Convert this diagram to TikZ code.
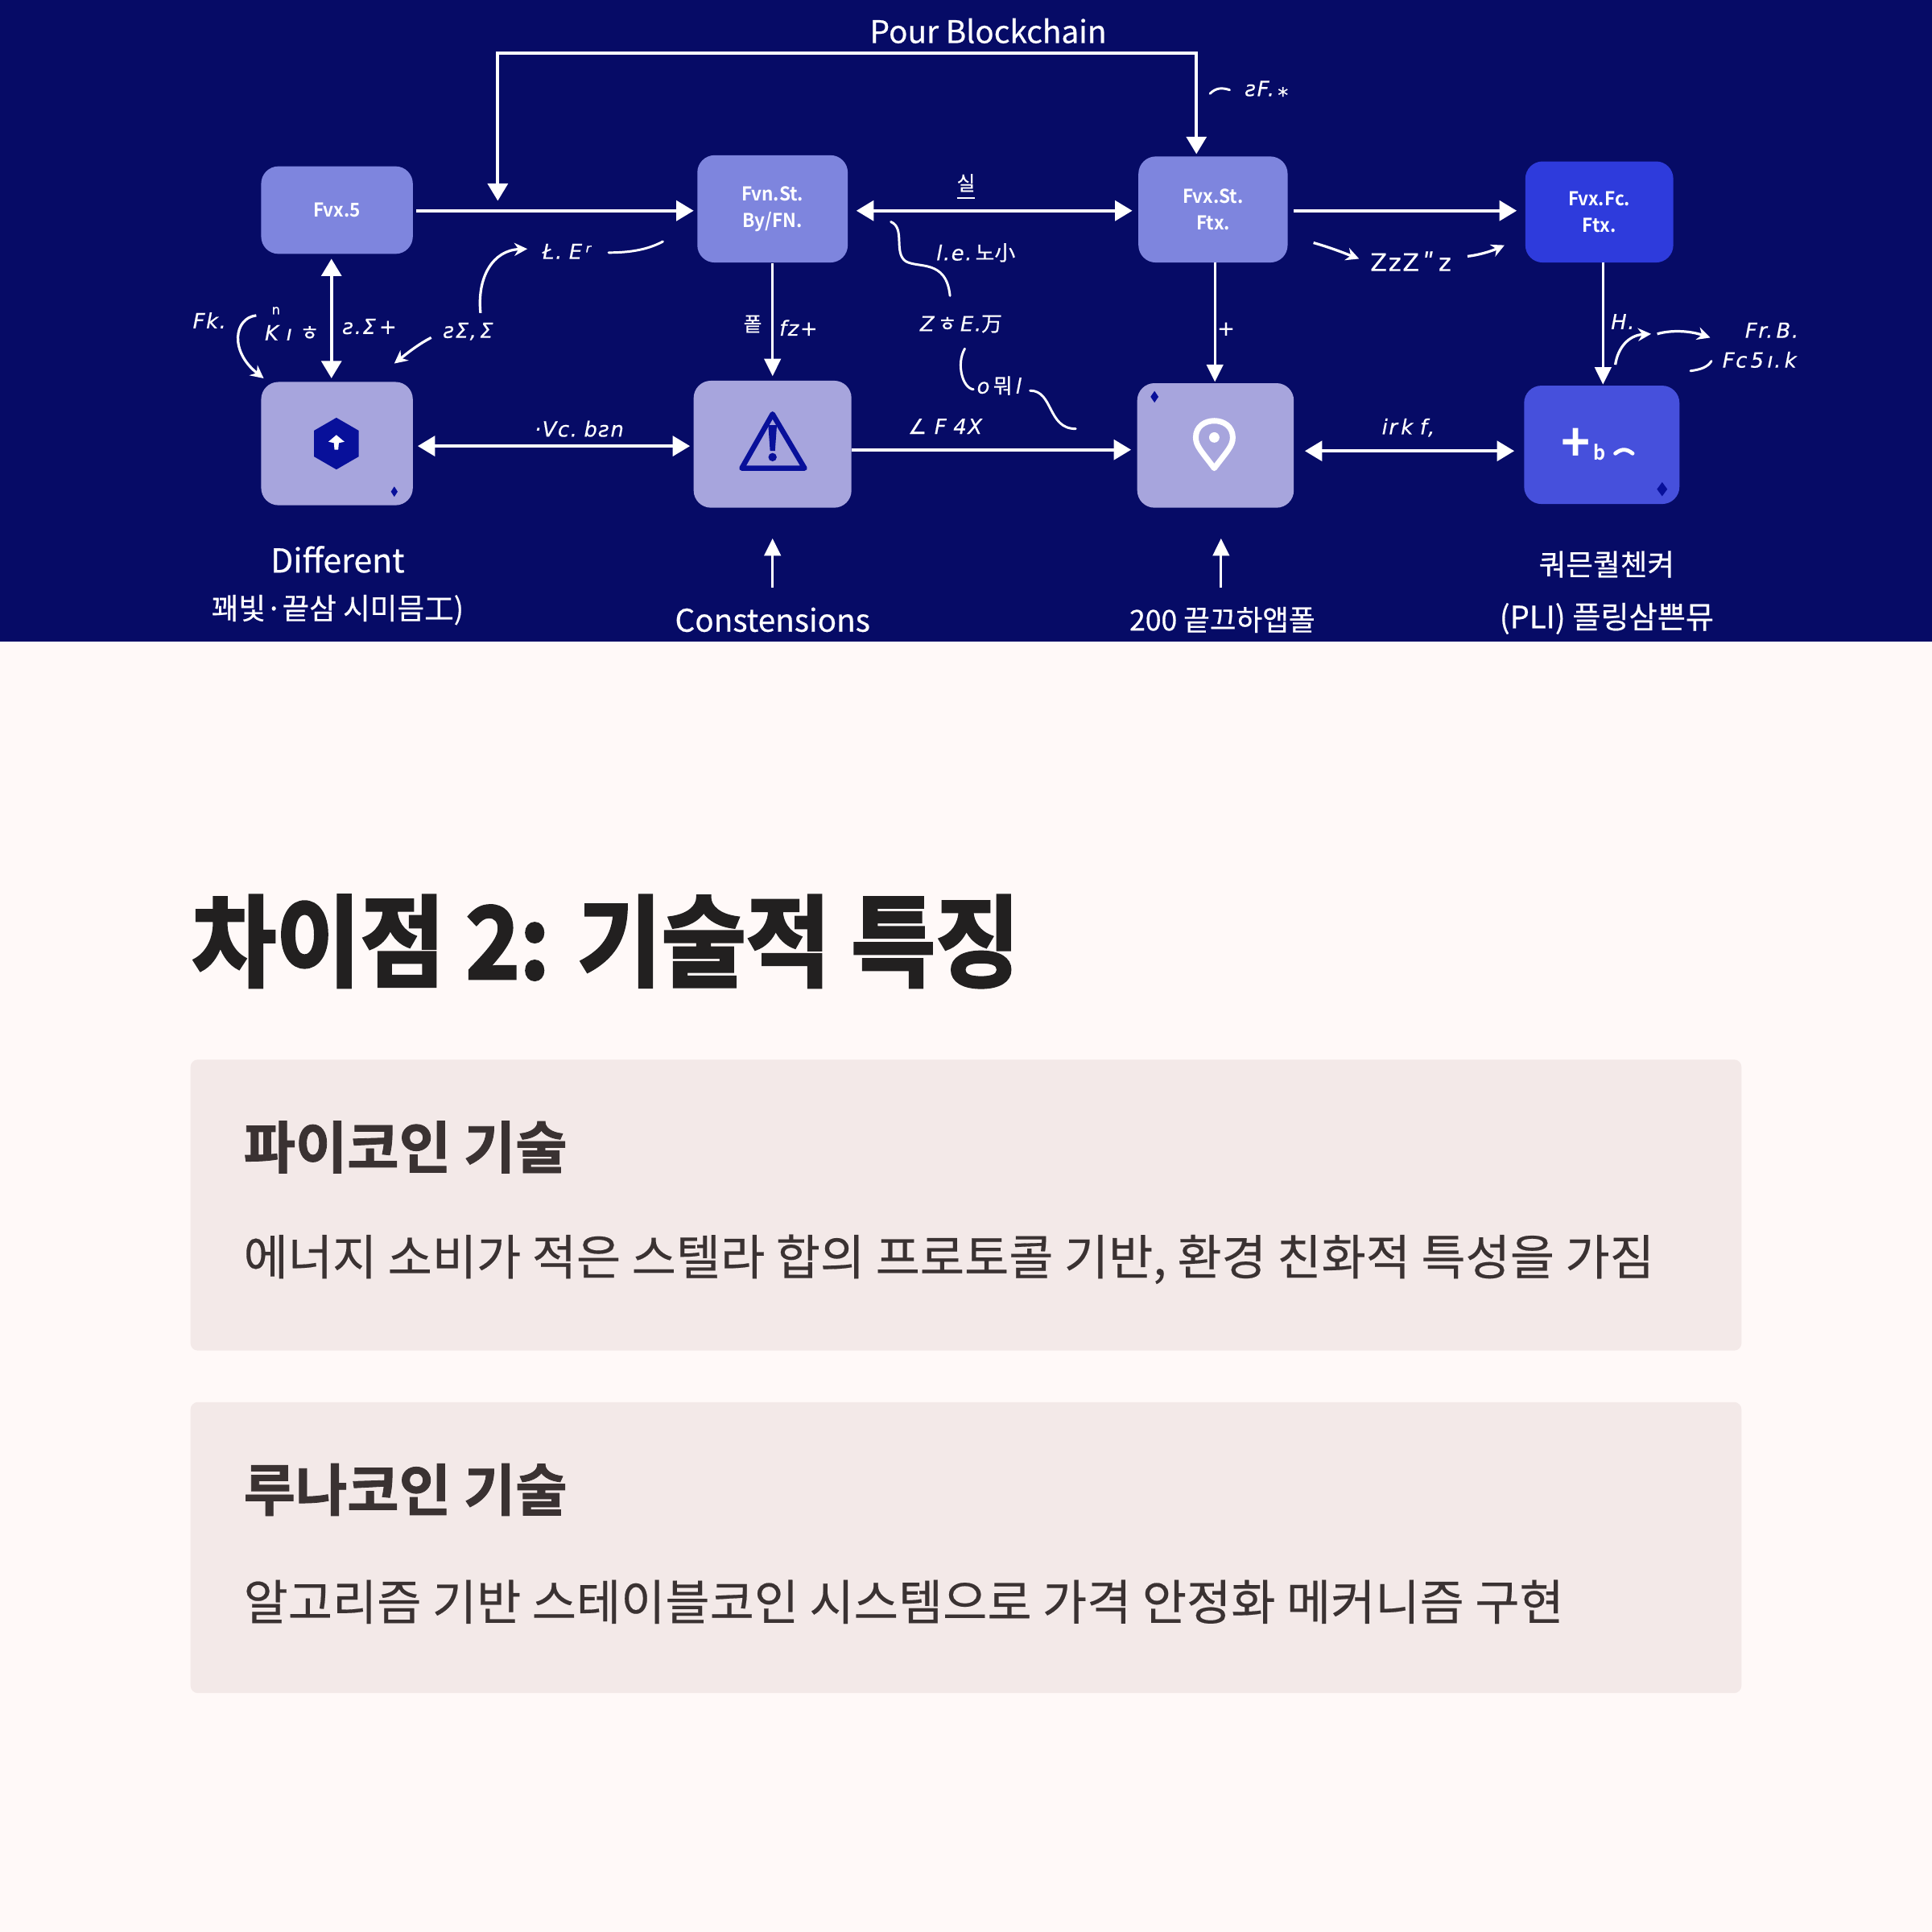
\documentclass[tikz,border=0pt]{standalone}
\usepackage{fontspec}
\usetikzlibrary{arrows.meta,shapes.geometric}
\setmainfont{Noto Sans CJK KR}
\newfontfamily\krfont{Noto Sans CJK KR}
\newfontfamily\krmed{Noto Sans CJK KR}[FakeBold=0.3]
\newfontfamily\krcap{Noto Sans CJK KR}[FakeBold=0.5]
\newfontfamily\krbox{Noto Sans CJK KR}[UprightFont=* Bold,FakeStretch=0.95]
\newfontfamily\krheavy{Noto Sans CJK KR}[UprightFont=* Bold,FakeBold=2.6,FakeStretch=0.92]
\newfontfamily\krhead{Noto Sans CJK KR}[UprightFont=* Bold,FakeBold=1.2]
\newfontfamily\scr{DejaVu Sans}[FakeBold=0.4,LetterSpace=6]
\definecolor{navy}{HTML}{060B66}
\definecolor{pagebg}{HTML}{FFF9F8}
\definecolor{cardbg}{HTML}{F3E9E8}
\definecolor{midbox}{HTML}{7E85DE}
\definecolor{lightbox}{HTML}{A7A5DD}
\definecolor{bluebox}{HTML}{2E3BDC}
\definecolor{blueboxb}{HTML}{4650DC}
\definecolor{iconblue}{HTML}{08109A}
\definecolor{inkhead}{HTML}{222020}
\definecolor{inksub}{HTML}{3A3232}
\tikzset{
 x=0.01cm,y=-0.01cm,
 flowbox/.style={draw=none,rounded corners=0.14cm,inner sep=0pt,align=center,text=white,font=\krbox\fontsize{4.4}{6.2}\selectfont},
 wire/.style={draw=white,line width=0.75pt,-{Triangle[length=4pt,width=4.6pt]}},
 wirethin/.style={draw=white,line width=0.6pt,-{Triangle[length=4pt,width=3.8pt]}},
 wirebi/.style={draw=white,line width=0.75pt,{Triangle[length=4pt,width=4.6pt]}-{Triangle[length=4pt,width=4.6pt]}},
 squig/.style={draw=white,line width=0.55pt,line cap=round},
 squigarrow/.style={draw=white,line width=0.6pt,-{Stealth[length=3pt,width=3pt]}},
 scrawl/.style={text=white,inner sep=0pt,font=\scr\itshape\fontsize{4.8}{5}\selectfont},
 caption/.style={text=white,inner sep=0pt,font=\krcap\fontsize{7.2}{9}\selectfont},
 captionkr/.style={text=white,inner sep=0pt,font=\krcap\fontsize{6.8}{9}\selectfont},
 card/.style={draw=none,fill=cardbg,rounded corners=0.06cm,inner sep=0pt,minimum width=12.58cm,minimum height=2.36cm},
 bodytext/.style={anchor=west,inner sep=0pt,text=inksub,font=\krmed\fontsize{11.15}{14}\selectfont},
 headtext/.style={anchor=west,inner sep=0pt,text=inksub,font=\krhead\fontsize{13}{15}\selectfont},
}
\begin{document}
\begin{tikzpicture}
\useasboundingbox (0,0) rectangle (1568,1568);
\fill[pagebg] (0,0) rectangle (1568,1568);
\fill[navy] (0,0) rectangle (1568,521);

% boxes
\node[flowbox,fill=midbox,minimum width=1.23cm,minimum height=0.71cm] (a) at (273.5,170.5) {Fvx.5};
\node[flowbox,fill=midbox,minimum width=1.22cm,minimum height=0.87cm] (b) at (627,169.5) {Fvn.St.\\By/FN.};
\node[flowbox,fill=midbox,minimum width=1.21cm,minimum height=0.86cm] (c) at (984.5,170) {Fvx.St.\\Ftx.};
\node[flowbox,fill=bluebox,minimum width=1.20cm,minimum height=0.82cm] (d) at (1298,172) {Fvx.Fc.\\Ftx.};
\node[flowbox,fill=lightbox,minimum width=1.23cm,minimum height=1.00cm] (e) at (273.5,360) {};
\node[flowbox,fill=lightbox,minimum width=1.28cm,minimum height=1.03cm] (f) at (627,360.5) {};
\node[flowbox,fill=lightbox,minimum width=1.27cm,minimum height=1.01cm] (g) at (986.5,361.5) {};
\node[flowbox,fill=blueboxb,minimum width=1.26cm,minimum height=0.96cm] (h) at (1300,361) {};

% icons
\node[regular polygon,regular polygon sides=6,shape border rotate=30,fill=iconblue,minimum size=0.42cm,inner sep=0pt] (hexicon) at (273,360) {};
\fill[white] (273,353) -- (279.5,358.5) -- (275,359.5) -- (274.5,365) -- (271.5,365) -- (271,359.5) -- (266.5,358.5) -- cycle;
\node[diamond,fill=iconblue,minimum width=0.06cm,minimum height=0.09cm,inner sep=0pt] (de) at (320,399) {};
\draw[iconblue,line width=1.2pt,line join=round] (627,336) -- (653,380) -- (602,380) -- cycle;
\fill[iconblue] (623.5,345) -- (630.5,345) -- (629,366) -- (625,366) -- cycle;
\fill[iconblue] (627,371) circle (3.4);
\draw[white,line width=1.3pt,line join=round] (985.5,380) .. controls (975,366) and (970.5,362) .. (970.5,355) .. controls (970.5,337) and (1000.5,337) .. (1000.5,355) .. controls (1000.5,362) and (996,366) .. (985.5,380) -- cycle;
\fill[white] (985.5,355) circle (4.2);
\node[diamond,fill=iconblue,minimum width=0.07cm,minimum height=0.10cm,inner sep=0pt] (dg) at (937,322) {};
\node[diamond,fill=iconblue,minimum width=0.09cm,minimum height=0.12cm,inner sep=0pt] (dh) at (1349,397) {};
\node[text=white,inner sep=0pt,font=\krbox\fontsize{12}{12}\selectfont] (plus) at (1279,361) {+};
\node[text=white,inner sep=0pt,font=\krbox\fontsize{4.6}{5}\selectfont] (pb) at (1298,367) {b};
\draw[white,line width=0.9pt,line cap=round] (1311,368) .. controls (1316,364) and (1320,364) .. (1325,368);

% connector ends
\coordinate (topin) at (404,163);
\coordinate (topa) at (404,43);
\coordinate (topb) at (971,43);
\coordinate (topc) at (971,125);
\coordinate (abs) at (338,171);
\coordinate (abe) at (563,171);
\coordinate (bcs) at (695,171);
\coordinate (bce) at (919,171);
\coordinate (cds) at (1050,171);
\coordinate (cde) at (1231,171);
\coordinate (aes) at (269,210);
\coordinate (aee) at (269,307);
\coordinate (cgs) at (986,213);
\coordinate (cge) at (986,310);
\coordinate (dhs) at (1301,213);
\coordinate (dhe) at (1301,312);
\coordinate (efs) at (339,362);
\coordinate (efe) at (560,362);
\coordinate (fgs) at (691,365);
\coordinate (fge) at (918,365);
\coordinate (ghs) at (1059,366);
\coordinate (ghe) at (1229,366);
\coordinate (uf) at (627,477);
\coordinate (uft) at (627,437);
\coordinate (ug) at (991,477);
\coordinate (ugt) at (991,437);

% connectors
\draw[wirebi] (topin) -- (topa) -- (topb) -- (topc);
\draw[wire] (abs) -- (abe);
\draw[wirebi] (bcs) -- (bce);
\draw[wire] (cds) -- (cde);
\draw[wirebi] (aes) -- (aee);
\draw[wirethin] (b.south) -- ([yshift=0.03cm]f.north);
\draw[wirethin] (cgs) -- (cge);
\draw[wirethin] (dhs) -- (dhe);
\draw[wirebi] (efs) -- (efe);
\draw[wire] (fgs) -- (fge);
\draw[wirebi] (ghs) -- (ghe);
\draw[wirethin] (uf) -- (uft);
\draw[wirethin] (ug) -- (ugt);

% scrawled labels
\node[scrawl] (l1) at (460,204) {Ł.\,\,E\,ʳ};
\node[scrawl] (l2) at (1028,72) {ƨF.\,⁎};
\node[scrawl,font=\krcap\fontsize{4.6}{5}\selectfont] (l3) at (784,152) {\underline{실}};
\node[scrawl] (l4) at (792,205) {l.e.{\krcap\,노小}};
\node[scrawl] (l5) at (780,263) {Z{\krcap\,ㅎ\,}E.{\krcap 万}};
\node[scrawl] (l6) at (811,313) {o{\krcap\,뭐\,}l};
\node[scrawl] (l7) at (767,346) {∠ F\,\,4X};
\node[scrawl] (l8) at (470,348) {·Vc.\,\,bƨn};
\node[scrawl] (l9) at (1143,347) {ir\,k\,\,f,};
\node[scrawl,font=\scr\fontsize{5.6}{6}\selectfont] (l10) at (1145,212) {ZzZ\,ʺ\,z};
\node[scrawl] (l11) at (300,265) {ƨ.Σ\,+};
\node[scrawl] (l12) at (237,270) {K ı {\krcap ㅎ}};
\node[scrawl] (l13) at (170,260) {Fk.};
\node[scrawl] (l14) at (380,269) {ƨΣ,\,Σ};
\node[scrawl,font=\krcap\fontsize{4.6}{5}\selectfont] (l15) at (611,263) {퐅};
\node[scrawl] (l16) at (648,266) {fz+};
\node[scrawl] (l17) at (995,267) {+};
\node[scrawl] (l18) at (1317,261) {H.};
\node[scrawl] (l19) at (1438,268) {Fr.\,B.};
\node[scrawl] (l20) at (1428,292) {Fc\,5\,ı.\,k};
\node[scrawl,font=\scr\fontsize{3}{4}\selectfont] (l21) at (224,252) {n};

% squiggles
\draw[squig] (494,205) .. controls (510,205) and (525,203) .. (538,196);
\draw[squigarrow] (390,254) .. controls (387,225) and (400,203) .. (428,202);
\draw[squigarrow] (350,274) .. controls (340,279) and (330,287) .. (320,295);
\draw[squigarrow] (208,256) .. controls (190,258) and (186,285) .. (214,307);
\draw[squig] (982,76) .. controls (987,71) and (992,71) .. (998,73);
\draw[squig] (723,180) .. controls (735,185) and (725,205) .. (735,212) .. controls (745,218) and (768,210) .. (771,240);
\draw[squig] (783,283) .. controls (776,295) and (781,315) .. (790,316);
\draw[squig] (836,317) .. controls (855,317) and (850,348) .. (873,348);
\draw[squigarrow] (1066,197) .. controls (1080,201) and (1090,205) .. (1103,210);
\draw[squigarrow] (1191,208) .. controls (1200,207) and (1210,204) .. (1221,199);
\draw[squigarrow] (1311,296) .. controls (1313,282) and (1322,272) .. (1340,271);
\draw[squigarrow] (1345,271) .. controls (1355,268) and (1370,268) .. (1388,274);
\draw[squig] (1372,301) .. controls (1380,300) and (1386,298) .. (1389,293);

% captions
\node[caption] (pour) at (802,25) {Pour Blockchain};
\node[caption,font=\krcap\fontsize{7.6}{9}\selectfont] (cap1) at (274,454) {Different};
\node[captionkr] (cap1b) at (274,495) {꽤빛·끝삼 시미믐工)};
\node[caption] (cap2) at (627,503) {Constensions};
\node[caption,font=\krcap\fontsize{6.6}{9}\selectfont] (cap3) at (992,503) {200 끝끄하앱폴};
\node[captionkr] (cap4) at (1304,458) {쿼믄퀄첸켜};
\node[captionkr,font=\krcap\fontsize{7.1}{9}\selectfont] (cap4b) at (1304,502) {(PLI) 플링삼쁜뮤};

% lower half
\node[anchor=west,inner sep=0pt,text=inkhead,font=\krheavy\fontsize{23}{26}\selectfont] (title) at (155,764) {차이점 2: 기술적 특징};
\node[card] (card1) at (784,978) {};
\node[card] (card2) at (784,1256) {};
\node[headtext] (h1) at (197,931) {파이코인 기술};
\node[bodytext] (t1) at (197,1022) {에너지 소비가 적은 스텔라 합의 프로토콜 기반, 환경 친화적 특성을 가짐};
\node[headtext] (h2) at (197,1209) {루나코인 기술};
\node[bodytext] (t2) at (197,1300) {알고리즘 기반 스테이블코인 시스템으로 가격 안정화 메커니즘 구현};
\end{tikzpicture}
\end{document}
